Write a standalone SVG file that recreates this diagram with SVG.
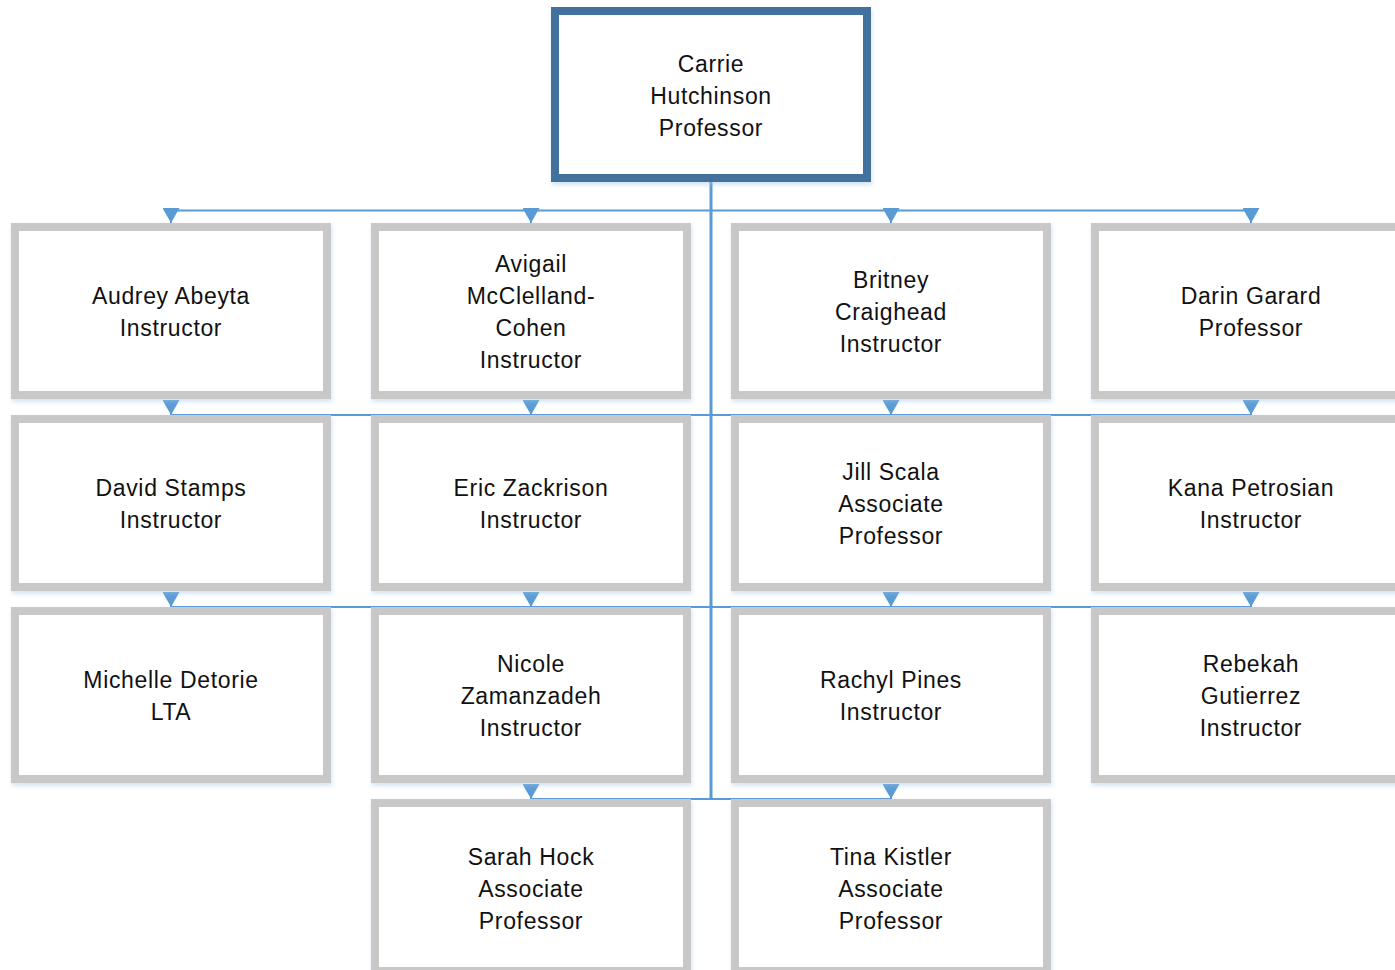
<svg xmlns="http://www.w3.org/2000/svg" width="1395" height="970" viewBox="0 0 1395 970">
  <style>
    .box { fill: #ffffff; stroke: #c8c8c8; stroke-width: 8; filter: url(#shadow); }
    .root { fill: #ffffff; stroke: #42719e; stroke-width: 8; filter: url(#shadow); }
    .lbl { font-family: "Liberation Sans", Arial, sans-serif; font-size: 23px; letter-spacing: 0.65px; fill: #111111; text-anchor: middle; }
    .trunk { stroke: #5b9bd5; stroke-width: 3; fill: none; }
    .bus { stroke: #5b9bd5; stroke-width: 2; fill: none; }
    .drop { stroke: #5b9bd5; stroke-width: 2; fill: none; marker-end: url(#arrow); }
  </style>
  <defs>
    <marker id="arrow" markerUnits="userSpaceOnUse" markerWidth="15" markerHeight="17" refX="15" refY="8.5" orient="auto">
      <path d="M0,0 L15,8.5 L0,17 z" fill="#5b9bd5"/>
    </marker>
    <filter id="shadow" x="-5%" y="-5%" width="115%" height="120%">
      <feDropShadow dx="1" dy="3" stdDeviation="2" flood-color="#9dc3e6" flood-opacity="0.45"/>
    </filter>
  </defs>
  <rect width="1395" height="970" fill="#ffffff"/>

  <g id="connectors">
    <line class="trunk" x1="711" y1="182" x2="711" y2="800"/>
    <line class="bus" x1="171" y1="210.5" x2="1251" y2="210.5"/>
    <line class="bus" x1="171" y1="415" x2="1251" y2="415"/>
    <line class="bus" x1="171" y1="607" x2="1251" y2="607"/>
    <line class="bus" x1="531" y1="799" x2="891" y2="799"/>
    <line class="drop" x1="171" y1="208" x2="171" y2="223"/>
    <line class="drop" x1="531" y1="208" x2="531" y2="223"/>
    <line class="drop" x1="891" y1="208" x2="891" y2="223"/>
    <line class="drop" x1="1251" y1="208" x2="1251" y2="223"/>
    <line class="drop" x1="171" y1="400" x2="171" y2="415"/>
    <line class="drop" x1="531" y1="400" x2="531" y2="415"/>
    <line class="drop" x1="891" y1="400" x2="891" y2="415"/>
    <line class="drop" x1="1251" y1="400" x2="1251" y2="415"/>
    <line class="drop" x1="171" y1="592" x2="171" y2="607"/>
    <line class="drop" x1="531" y1="592" x2="531" y2="607"/>
    <line class="drop" x1="891" y1="592" x2="891" y2="607"/>
    <line class="drop" x1="1251" y1="592" x2="1251" y2="607"/>
    <line class="drop" x1="531" y1="784" x2="531" y2="799"/>
    <line class="drop" x1="891" y1="784" x2="891" y2="799"/>
  </g>

  <g id="node-carrie">
    <rect class="root" x="555" y="11" width="312" height="167"/>
    <text class="lbl" x="711"><tspan x="711" y="72">Carrie</tspan><tspan x="711" y="104">Hutchinson</tspan><tspan x="711" y="136">Professor</tspan></text>
  </g>

  <g id="node-audrey">
    <rect class="box" x="15" y="227" width="312" height="168"/>
    <text class="lbl"><tspan x="171" y="304">Audrey Abeyta</tspan><tspan x="171" y="336">Instructor</tspan></text>
  </g>
  <g id="node-avigail">
    <rect class="box" x="375" y="227" width="312" height="168"/>
    <text class="lbl"><tspan x="531" y="272">Avigail</tspan><tspan x="531" y="304">McClelland-</tspan><tspan x="531" y="336">Cohen</tspan><tspan x="531" y="368">Instructor</tspan></text>
  </g>
  <g id="node-britney">
    <rect class="box" x="735" y="227" width="312" height="168"/>
    <text class="lbl"><tspan x="891" y="288">Britney</tspan><tspan x="891" y="320">Craighead</tspan><tspan x="891" y="352">Instructor</tspan></text>
  </g>
  <g id="node-darin">
    <rect class="box" x="1095" y="227" width="312" height="168"/>
    <text class="lbl"><tspan x="1251" y="304">Darin Garard</tspan><tspan x="1251" y="336">Professor</tspan></text>
  </g>

  <g id="node-david">
    <rect class="box" x="15" y="419" width="312" height="168"/>
    <text class="lbl"><tspan x="171" y="496">David Stamps</tspan><tspan x="171" y="528">Instructor</tspan></text>
  </g>
  <g id="node-eric">
    <rect class="box" x="375" y="419" width="312" height="168"/>
    <text class="lbl"><tspan x="531" y="496">Eric Zackrison</tspan><tspan x="531" y="528">Instructor</tspan></text>
  </g>
  <g id="node-jill">
    <rect class="box" x="735" y="419" width="312" height="168"/>
    <text class="lbl"><tspan x="891" y="480">Jill Scala</tspan><tspan x="891" y="512">Associate</tspan><tspan x="891" y="544">Professor</tspan></text>
  </g>
  <g id="node-kana">
    <rect class="box" x="1095" y="419" width="312" height="168"/>
    <text class="lbl"><tspan x="1251" y="496">Kana Petrosian</tspan><tspan x="1251" y="528">Instructor</tspan></text>
  </g>

  <g id="node-michelle">
    <rect class="box" x="15" y="611" width="312" height="168"/>
    <text class="lbl"><tspan x="171" y="688">Michelle Detorie</tspan><tspan x="171" y="720">LTA</tspan></text>
  </g>
  <g id="node-nicole">
    <rect class="box" x="375" y="611" width="312" height="168"/>
    <text class="lbl"><tspan x="531" y="672">Nicole</tspan><tspan x="531" y="704">Zamanzadeh</tspan><tspan x="531" y="736">Instructor</tspan></text>
  </g>
  <g id="node-rachyl">
    <rect class="box" x="735" y="611" width="312" height="168"/>
    <text class="lbl"><tspan x="891" y="688">Rachyl Pines</tspan><tspan x="891" y="720">Instructor</tspan></text>
  </g>
  <g id="node-rebekah">
    <rect class="box" x="1095" y="611" width="312" height="168"/>
    <text class="lbl"><tspan x="1251" y="672">Rebekah</tspan><tspan x="1251" y="704">Gutierrez</tspan><tspan x="1251" y="736">Instructor</tspan></text>
  </g>

  <g id="node-sarah">
    <rect class="box" x="375" y="803" width="312" height="168"/>
    <text class="lbl"><tspan x="531" y="865">Sarah Hock</tspan><tspan x="531" y="897">Associate</tspan><tspan x="531" y="929">Professor</tspan></text>
  </g>
  <g id="node-tina">
    <rect class="box" x="735" y="803" width="312" height="168"/>
    <text class="lbl"><tspan x="891" y="865">Tina Kistler</tspan><tspan x="891" y="897">Associate</tspan><tspan x="891" y="929">Professor</tspan></text>
  </g>
</svg>
